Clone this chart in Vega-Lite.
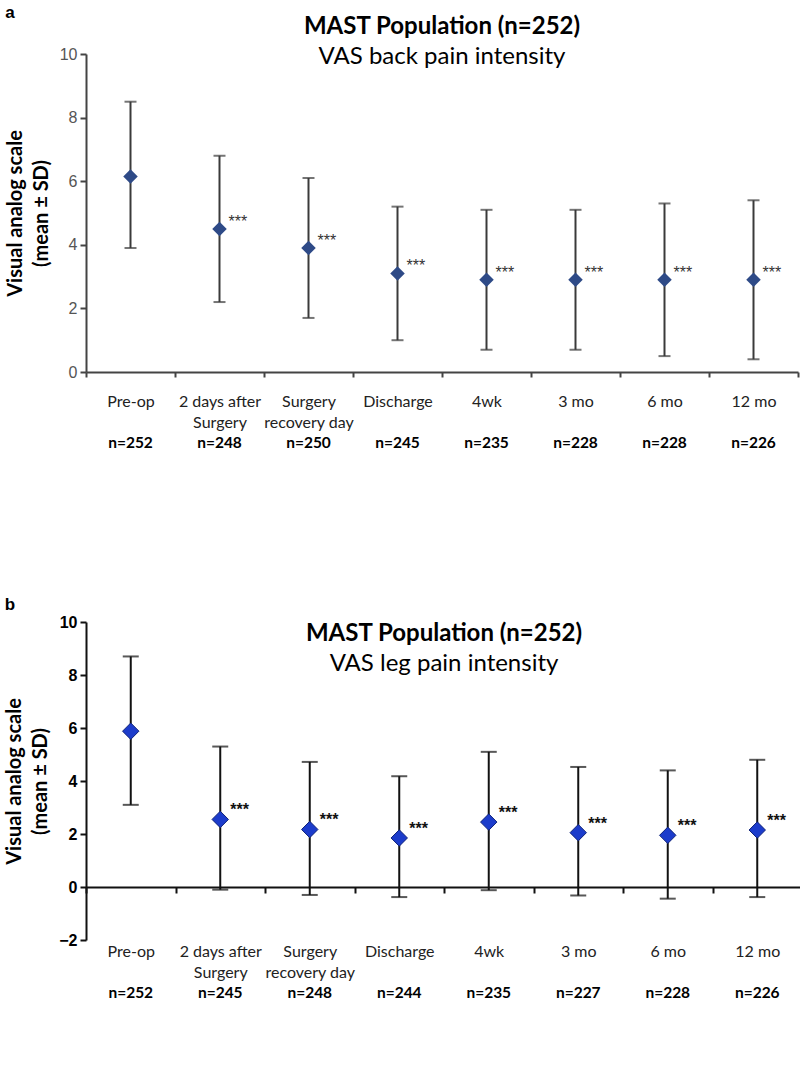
{
  "$schema": "https://vega.github.io/schema/vega-lite/v6.json",
  "background": "white",
  "padding": {"left": 4, "top": 4, "right": 0, "bottom": 0},
  "config": {
    "view": {"stroke": null},
    "font": "Lato",
    "title": {"font": "Liberation Sans", "fontSize": 17, "fontWeight": "bold", "color": "black"}
  },
  "datasets": {
    "back": [
      {"label": "Pre-op\nn=252", "mean": 6.15, "lo": 3.9, "hi": 8.5, "sig": ""},
      {"label": "2 days after\nSurgery\nn=248", "mean": 4.5, "lo": 2.2, "hi": 6.8, "sig": "***"},
      {"label": "Surgery\nrecovery day\nn=250", "mean": 3.9, "lo": 1.7, "hi": 6.1, "sig": "***"},
      {"label": "Discharge\nn=245", "mean": 3.1, "lo": 1.0, "hi": 5.2, "sig": "***"},
      {"label": "4wk\nn=235", "mean": 2.9, "lo": 0.7, "hi": 5.1, "sig": "***"},
      {"label": "3 mo\nn=228", "mean": 2.9, "lo": 0.7, "hi": 5.1, "sig": "***"},
      {"label": "6 mo\nn=228", "mean": 2.9, "lo": 0.5, "hi": 5.3, "sig": "***"},
      {"label": "12 mo\nn=226", "mean": 2.9, "lo": 0.4, "hi": 5.4, "sig": "***"}
    ],
    "leg": [
      {"label": "Pre-op\nn=252", "mean": 5.88, "lo": 3.1, "hi": 8.7, "sig": ""},
      {"label": "2 days after\nSurgery\nn=245", "mean": 2.55, "lo": -0.1, "hi": 5.3, "sig": "***"},
      {"label": "Surgery\nrecovery day\nn=248", "mean": 2.17, "lo": -0.3, "hi": 4.72, "sig": "***"},
      {"label": "Discharge\nn=244", "mean": 1.85, "lo": -0.38, "hi": 4.18, "sig": "***"},
      {"label": "4wk\nn=235", "mean": 2.45, "lo": -0.12, "hi": 5.1, "sig": "***"},
      {"label": "3 mo\nn=227", "mean": 2.05, "lo": -0.32, "hi": 4.53, "sig": "***"},
      {"label": "6 mo\nn=228", "mean": 1.95, "lo": -0.44, "hi": 4.4, "sig": "***"},
      {"label": "12 mo\nn=226", "mean": 2.15, "lo": -0.38, "hi": 4.8, "sig": "***"}
    ]
  },
  "spacing": 145,
  "vconcat": [
    {
      "title": {"text": "a", "anchor": "start", "offset": -7},
      "vconcat": [
        {
          "title": {
            "text": "MAST Population (n=252)", "subtitle": "VAS back pain intensity",
            "font": "Lato", "subtitleFont": "Lato", "fontSize": 24, "subtitleFontSize": 24,
            "fontWeight": "bold", "color": "black", "subtitleColor": "black",
            "anchor": "middle", "frame": "group", "offset": -23, "subtitlePadding": 6
          },
          "width": 712,
          "height": 318,
          "data": {"name": "back"},
          "resolve": {"axis": {"x": "independent"}},
          "layer": [
            {
              "mark": {"type": "rule", "color": "#3a3a3a", "strokeWidth": 2},
              "encoding": {
                "x": {"field": "label", "type": "nominal", "sort": null,
                  "scale": {"paddingInner": 0, "paddingOuter": 0},
                  "axis": {"orient": "bottom", "title": null, "labelAngle": 0, "tickBand": "extent",
                    "labelExpr": "slice(split(datum.value, '\\n'), 0, -1)",
                    "labelFont": "Lato", "labelFontSize": 16, "labelColor": "#222", "labelLineHeight": 21,
                    "labelPadding": 16, "labelOverlap": false, "labelBaseline": "top",
                    "domainColor": "#444", "domainWidth": 2, "tickColor": "#444", "tickWidth": 2, "tickSize": 5}},
                "y": {"field": "lo", "type": "quantitative",
                  "scale": {"domain": [0, 10], "nice": false},
                  "axis": {"values": [0, 2, 4, 6, 8, 10], "grid": false,
                    "title": ["Visual analog scale", "(mean ± SD)"],
                    "titleFont": "Lato", "titleFontSize": 20, "titleFontWeight": "bold", "titleColor": "black",
                    "titleLineHeight": 26, "titlePadding": 8,
                    "labelFont": "Liberation Sans", "labelFontSize": 16, "labelColor": "#555", "labelPadding": 3,
                    "domainColor": "#444", "domainWidth": 2, "tickColor": "#444", "tickWidth": 2, "tickSize": 6}},
                "y2": {"field": "hi"}
              }
            },
            {
              "mark": {"type": "tick", "color": "#3a3a3a", "thickness": 2, "size": 12},
              "encoding": {
                "x": {"field": "label", "type": "nominal", "sort": null,
                  "axis": {"orient": "bottom", "title": null, "labelAngle": 0,
                    "labelExpr": "peek(split(datum.value, '\\n'))",
                    "labelFont": "Lato", "labelFontSize": 15.5, "labelFontWeight": "bold", "labelColor": "black",
                    "labelPadding": 63, "labelOverlap": false, "labelBaseline": "top",
                    "domain": false, "ticks": false, "tickSize": 0}},
                "y": {"field": "lo", "type": "quantitative"}
              }
            },
            {
              "mark": {"type": "tick", "color": "#3a3a3a", "thickness": 2, "size": 12},
              "encoding": {
                "x": {"field": "label", "type": "nominal", "sort": null, "axis": null},
                "y": {"field": "hi", "type": "quantitative"}
              }
            },
            {
              "mark": {"type": "point", "shape": "diamond", "filled": true, "size": 210, "color": "#2E4A87", "opacity": 1},
              "encoding": {
                "x": {"field": "label", "type": "nominal", "sort": null, "axis": null},
                "y": {"field": "mean", "type": "quantitative"}
              }
            },
            {
              "mark": {"type": "text", "align": "left", "baseline": "middle", "dx": 9, "dy": -7, "fontSize": 16, "color": "#333", "font": "Liberation Sans"},
              "encoding": {
                "x": {"field": "label", "type": "nominal", "sort": null, "axis": null},
                "y": {"field": "mean", "type": "quantitative"},
                "text": {"field": "sig"}
              }
            }
          ]
        }
      ]
    },
    {
      "title": {"text": "b", "anchor": "start", "offset": 0},
      "vconcat": [
        {
          "title": {
            "text": "MAST Population (n=252)", "subtitle": "VAS leg pain intensity",
            "font": "Lato", "subtitleFont": "Lato", "fontSize": 24, "subtitleFontSize": 24,
            "fontWeight": "bold", "color": "black", "subtitleColor": "black",
            "anchor": "middle", "frame": "group", "offset": -62, "subtitlePadding": 6
          },
          "width": 716,
          "height": 318,
          "data": {"name": "leg"},
          "resolve": {"axis": {"x": "independent"}},
          "layer": [
            {
              "mark": {"type": "rule", "color": "#111", "strokeWidth": 2},
              "encoding": {
                "x": {"field": "label", "type": "nominal", "sort": null,
                  "scale": {"paddingInner": 0, "paddingOuter": 0},
                  "axis": {"orient": "bottom", "title": null, "labelAngle": 0, "tickBand": "extent", "offset": -53,
                    "labelExpr": "slice(split(datum.value, '\\n'), 0, -1)",
                    "labelFont": "Lato", "labelFontSize": 16, "labelColor": "#222", "labelLineHeight": 21,
                    "labelPadding": 50, "labelOverlap": false, "labelBaseline": "top",
                    "domainColor": "#111", "domainWidth": 2, "tickColor": "#111", "tickWidth": 2, "tickSize": 6}},
                "y": {"field": "lo", "type": "quantitative",
                  "scale": {"domain": [-2, 10], "nice": false},
                  "axis": {"values": [-2, 0, 2, 4, 6, 8, 10], "grid": false,
                    "title": ["Visual analog scale", "(mean ± SD)"],
                    "titleFont": "Lato", "titleFontSize": 20, "titleFontWeight": "bold", "titleColor": "black",
                    "titleLineHeight": 26, "titlePadding": 8,
                    "labelFont": "Liberation Sans", "labelFontSize": 16, "labelFontWeight": "bold", "labelColor": "black", "labelPadding": 3,
                    "domainColor": "#111", "domainWidth": 2, "tickColor": "#111", "tickWidth": 2, "tickSize": 6}},
                "y2": {"field": "hi"}
              }
            },
            {
              "mark": {"type": "tick", "color": "#111", "thickness": 2, "size": 16},
              "encoding": {
                "x": {"field": "label", "type": "nominal", "sort": null,
                  "axis": {"orient": "bottom", "title": null, "labelAngle": 0,
                    "labelExpr": "peek(split(datum.value, '\\n'))",
                    "labelFont": "Lato", "labelFontSize": 15.5, "labelFontWeight": "bold", "labelColor": "black",
                    "labelPadding": 45, "labelOverlap": false, "labelBaseline": "top",
                    "domain": false, "ticks": false, "tickSize": 0}},
                "y": {"field": "lo", "type": "quantitative"}
              }
            },
            {
              "mark": {"type": "tick", "color": "#111", "thickness": 2, "size": 16},
              "encoding": {
                "x": {"field": "label", "type": "nominal", "sort": null, "axis": null},
                "y": {"field": "hi", "type": "quantitative"}
              }
            },
            {
              "mark": {"type": "point", "shape": "diamond", "filled": true, "size": 270, "color": "#1C3CCB", "opacity": 1, "stroke": "#10237a", "strokeWidth": 1},
              "encoding": {
                "x": {"field": "label", "type": "nominal", "sort": null, "axis": null},
                "y": {"field": "mean", "type": "quantitative"}
              }
            },
            {
              "mark": {"type": "text", "align": "left", "baseline": "middle", "dx": 10, "dy": -9, "fontSize": 16, "fontWeight": "bold", "color": "#111", "font": "Liberation Sans"},
              "encoding": {
                "x": {"field": "label", "type": "nominal", "sort": null, "axis": null},
                "y": {"field": "mean", "type": "quantitative"},
                "text": {"field": "sig"}
              }
            }
          ]
        }
      ]
    }
  ]
}
